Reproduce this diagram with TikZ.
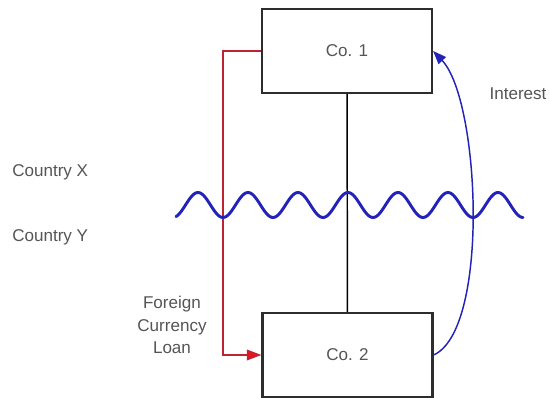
\documentclass[tikz,border=0pt]{standalone}
\usepackage{fontspec}
\setmainfont{Liberation Sans}
\usepackage{xcolor}
\usetikzlibrary{arrows.meta,positioning,calc}
\definecolor{boxline}{RGB}{45,45,45}
\definecolor{loanred}{RGB}{190,35,50}
\definecolor{tipred}{RGB}{230,20,30}
\definecolor{flowblue}{RGB}{35,35,185}
\definecolor{textgray}{RGB}{85,85,85}

\begin{document}
\begin{tikzpicture}[
  x=0.75pt, y=-0.75pt,
  font=\fontsize{12.8}{17}\selectfont,
  company/.style={draw=boxline, line width=1.6pt, fill=white, minimum width=127.5pt, minimum height=63pt, text=textgray, inner sep=0pt},
  lbl/.style={text=textgray, align=center, inner sep=0pt},
  loan/.style={draw=loanred, line width=1.1pt, -{Triangle[length=11pt,width=8pt,fill=tipred]}},
  interest/.style={draw=flowblue, line width=1.1pt, -{Triangle[length=10pt,width=7.5pt]}},
  border/.style={draw=flowblue, line width=2.2pt, line cap=round},
  link/.style={draw=black, line width=1.1pt},
]
\useasboundingbox (0,0) rectangle (549,398);
\node[company] (co1) at (347,51) {Co. 1};
\node[company] (co2) at (347.5,355) {Co. 2};
\node[lbl, anchor=west] (cx) at (12,172) {Country X};
\node[lbl, anchor=west] (cy) at (12,237) {Country Y};
\node[lbl] (int) at (518,94) {Interest};
\node[lbl] (fcl) at (172,325) {Foreign\\Currency\\Loan};
\coordinate (bend) at (223,51);
\draw[link] (co1) -- (co2);
\draw[loan] (co1.west) -- (bend) |- (co2.west);
\draw[interest] (co2.east) .. controls (490,330) and (480,100) .. (co1.east);
% country border
\draw[border] plot[domain=176:523, samples=200] (\x, {205-12.5*cos(7.2*(\x-198))});
\end{tikzpicture}
\end{document}
